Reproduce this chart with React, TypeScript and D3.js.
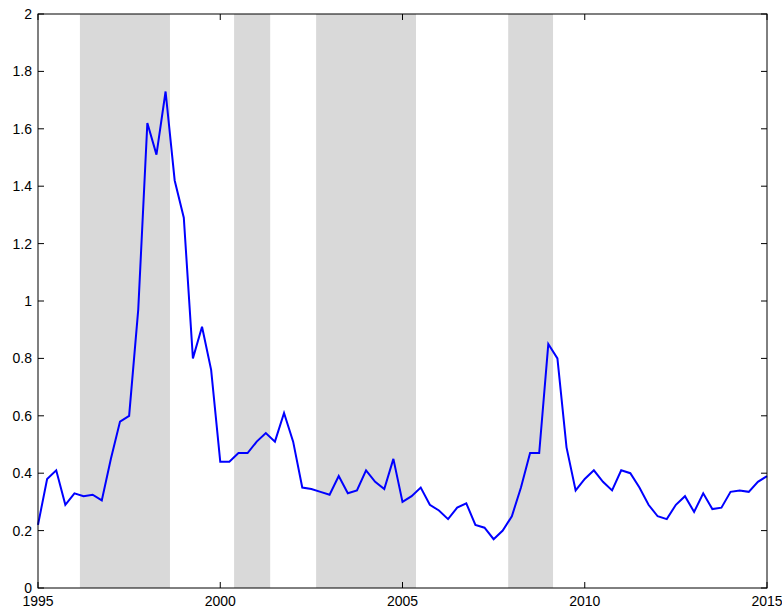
import * as d3 from 'd3'

const values = [
  0.22, 0.38, 0.41, 0.29, 0.33, 0.32, 0.325, 0.305, 0.45, 0.58, 0.60, 0.97, 1.62, 1.51, 1.73, 1.42,
  1.29, 0.80, 0.91, 0.76, 0.44, 0.44, 0.47, 0.47, 0.51, 0.54, 0.51, 0.61, 0.51, 0.35, 0.345, 0.335,
  0.325, 0.39, 0.33, 0.34, 0.41, 0.37, 0.345, 0.45, 0.30, 0.32, 0.35, 0.29, 0.27, 0.24, 0.28, 0.295,
  0.22, 0.21, 0.17, 0.20, 0.25, 0.35, 0.47, 0.47, 0.85, 0.80, 0.49, 0.34, 0.38, 0.41, 0.37, 0.34,
  0.41, 0.40, 0.35, 0.29, 0.25, 0.24, 0.29, 0.32, 0.265, 0.33, 0.275, 0.28, 0.335, 0.34, 0.335, 0.37, 0.39,
]
const recessions: [number, number][] = [
  [1996.15, 1998.62], [2000.38, 2001.37], [2002.63, 2005.37], [2007.9, 2009.13],
]
const xTicks = [1995, 2000, 2005, 2010, 2015]
const yTicks = [0, 0.2, 0.4, 0.6, 0.8, 1, 1.2, 1.4, 1.6, 1.8, 2]

export default function App() {
  const W = 782, H = 610
  const m = { left: 38, right: 15, top: 14, bottom: 22 }
  const x = d3.scaleLinear().domain([1995, 2015]).range([m.left, W - m.right])
  const y = d3.scaleLinear().domain([0, 2]).range([H - m.bottom, m.top])
  const line = d3.line<number>().x((_, i) => x(1995 + i / 4)).y((d) => y(d))
  const font = { fontFamily: 'Liberation Sans, Arial, sans-serif', fontSize: 14 }
  return (
    <svg width={W} height={H} style={{ position: 'absolute', left: 0, top: 0 }}>
      <rect width={W} height={H} fill="#fff" />
      {recessions.map(([a, b], i) => (
        <rect key={i} x={x(a)} y={y(2)} width={x(b) - x(a)} height={y(0) - y(2)} fill="#d9d9d9" />
      ))}
      <path d={line(values) || ''} fill="none" stroke="#0000ff" strokeWidth={2} />
      <rect x={x(1995)} y={y(2)} width={x(2015) - x(1995)} height={y(0) - y(2)} fill="none" stroke="#000" />
      {yTicks.map((t) => (
        <g key={t}>
          <line x1={x(1995)} x2={x(1995) + 6} y1={y(t)} y2={y(t)} stroke="#000" />
          <line x1={x(2015)} x2={x(2015) - 6} y1={y(t)} y2={y(t)} stroke="#000" />
          <text x={x(1995) - 6} y={y(t) + 5} textAnchor="end" {...font}>{t}</text>
        </g>
      ))}
      {xTicks.map((t) => (
        <g key={t}>
          <line x1={x(t)} x2={x(t)} y1={y(0)} y2={y(0) - 6} stroke="#000" />
          <line x1={x(t)} x2={x(t)} y1={y(2)} y2={y(2) + 6} stroke="#000" />
          <text x={x(t)} y={y(0) + 18} textAnchor="middle" {...font}>{t}</text>
        </g>
      ))}
    </svg>
  )
}
